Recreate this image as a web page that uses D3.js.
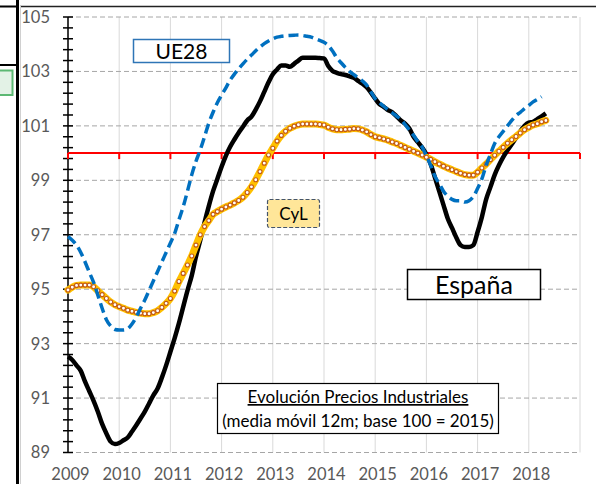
<!DOCTYPE html>
<html>
<head>
<meta charset="utf-8">
<script src="https://cdnjs.cloudflare.com/ajax/libs/d3/7.8.5/d3.min.js"></script>
<style>
body { margin: 0; background: #fff; }
text { font-family: Lato, "Open Sans", sans-serif; }
</style>
</head>
<body>
<svg id="chart" width="596" height="484"></svg>
<script>
// monthly series, first point = Jan 2009
var startYear = 2009;
var yearTicks = [2009, 2010, 2011, 2012, 2013, 2014, 2015, 2016, 2017, 2018];
var yLabels = [89, 91, 93, 95, 97, 99, 101, 103, 105];

var espana = [
  92.52, 92.4, 92.2, 92.0, 91.6, 91.25, 90.9, 90.5, 90.05, 89.7, 89.4, 89.31,
  89.35, 89.45, 89.55, 89.77, 90.0, 90.25, 90.5, 90.8, 91.1, 91.35, 91.75, 92.2,
  92.7, 93.2, 93.75, 94.35, 94.95, 95.5, 96.2, 96.8, 97.45, 98.05, 98.6, 99.05,
  99.5, 99.9, 100.23, 100.5, 100.75, 100.97, 101.2, 101.34, 101.6, 101.9, 102.25, 102.6,
  102.9, 103.07, 103.22, 103.22, 103.17, 103.28, 103.4, 103.5, 103.5, 103.5, 103.5, 103.49,
  103.48, 103.2, 103.02, 102.95, 102.9, 102.87, 102.82, 102.77, 102.65, 102.55, 102.42, 102.22,
  102.0, 101.8, 101.7, 101.58, 101.5, 101.35, 101.2, 101.08, 100.9, 100.6, 100.4, 100.2,
  99.95, 99.6, 99.1, 98.6, 98.1, 97.6, 97.25, 96.9, 96.62, 96.55, 96.55, 96.62,
  97.1, 97.65, 98.3, 98.75, 99.2, 99.55, 99.85, 100.1, 100.33, 100.55, 100.8, 101.0,
  101.12, 101.15, 101.25, 101.35, 101.46
];

var ue28 = [
  96.93, 96.8, 96.62, 96.35, 96.0, 95.62, 95.25, 94.78, 94.3, 93.88, 93.65, 93.52,
  93.5, 93.5, 93.55, 93.72, 93.98, 94.3, 94.6, 94.95, 95.3, 95.65, 96.0, 96.35,
  96.7, 97.05, 97.55, 98.03, 98.6, 99.2, 99.7, 100.12, 100.6, 101.1, 101.5, 101.85,
  102.13, 102.4, 102.68, 102.9, 103.1, 103.28, 103.45, 103.6, 103.76, 103.9, 104.02, 104.12,
  104.2, 104.26, 104.29, 104.31, 104.32, 104.33, 104.34, 104.32, 104.29, 104.26, 104.2, 104.14,
  104.07, 103.95, 103.75, 103.5, 103.32, 103.15, 103.0, 102.88, 102.77, 102.65, 102.5, 102.25,
  102.0, 101.85, 101.72, 101.59, 101.48, 101.36, 101.24, 101.05, 100.85, 100.65, 100.42, 100.22,
  99.9, 99.55, 99.15, 98.88, 98.6, 98.42, 98.3, 98.25, 98.25, 98.2, 98.25, 98.4,
  98.7, 99.05, 99.55, 99.95, 100.35, 100.6, 100.8, 101.0, 101.2, 101.38, 101.5, 101.63,
  101.75, 101.88, 101.97, 102.07
];

var cyl = [
  94.97, 95.07, 95.14, 95.15, 95.15, 95.15, 95.09, 94.94, 94.8, 94.66, 94.53, 94.43,
  94.36, 94.3, 94.23, 94.19, 94.15, 94.12, 94.1, 94.1, 94.14, 94.21, 94.33, 94.48,
  94.66, 94.93, 95.28, 95.58, 95.89, 96.22, 96.62, 97.0, 97.3, 97.52, 97.75, 97.85,
  97.94, 98.02, 98.09, 98.17, 98.26, 98.38, 98.55, 98.76, 99.02, 99.32, 99.63, 99.93,
  100.18, 100.44, 100.65, 100.8, 100.91, 100.99, 101.04, 101.07, 101.07, 101.07, 101.07, 101.05,
  101.03, 100.95, 100.89, 100.86, 100.86, 100.87, 100.88, 100.9, 100.89, 100.85, 100.78, 100.68,
  100.6, 100.56, 100.52, 100.47, 100.41, 100.35, 100.28, 100.21, 100.14, 100.07, 100.0, 99.93,
  99.85, 99.77, 99.68, 99.6, 99.52, 99.45, 99.39, 99.32, 99.26, 99.21, 99.19, 99.19,
  99.3, 99.45, 99.6, 99.76, 99.92, 100.07, 100.21, 100.36, 100.49, 100.61, 100.74, 100.86,
  100.95, 101.03, 101.08, 101.15, 101.2
];

var svg = d3.select("#chart");

var x = d3.scaleLinear().domain([2009, 2019]).range([68, 580]);
var y = d3.scaleLinear().domain([89, 105]).range([452.5, 17]);

function tOf(i) { return startYear + i / 12; }

// left side bits of the neighbouring slide element
svg.append("line").attr("x1", 17.5).attr("x2", 17.5).attr("y1", 0).attr("y2", 484)
  .attr("stroke", "#000").attr("stroke-width", 3);
svg.append("line").attr("x1", 0).attr("x2", 19).attr("y1", 6.5).attr("y2", 6.5)
  .attr("stroke", "#000").attr("stroke-width", 2);
svg.append("line").attr("x1", 0).attr("x2", 19).attr("y1", 65).attr("y2", 65)
  .attr("stroke", "#000").attr("stroke-width", 2);
svg.append("rect").attr("x", -2).attr("y", 70.5).attr("width", 14.5).attr("height", 24.5)
  .attr("fill", "#e3f2e6").attr("stroke", "#5cb873").attr("stroke-width", 2);

// chart frame
svg.append("line").attr("x1", 20).attr("x2", 596).attr("y1", 6.5).attr("y2", 6.5)
  .attr("stroke", "#222").attr("stroke-width", 1.5);
svg.append("line").attr("x1", 20.5).attr("x2", 20.5).attr("y1", 6).attr("y2", 484)
  .attr("stroke", "#d0d0d0").attr("stroke-width", 1);

// vertical grid
svg.append("g").selectAll("line")
  .data(yearTicks.concat([2019]))
  .enter().append("line")
    .attr("x1", function(d) { return x(d); })
    .attr("x2", function(d) { return x(d); })
    .attr("y1", y(105)).attr("y2", y(89))
    .attr("stroke", "#d9d9d9").attr("stroke-width", 1);

// horizontal dashed grid
svg.append("g").selectAll("line")
  .data(yLabels)
  .enter().append("line")
    .attr("x1", x(2009)).attr("x2", x(2019))
    .attr("y1", function(d) { return y(d); })
    .attr("y2", function(d) { return y(d); })
    .attr("stroke", "#a6a6a6").attr("stroke-width", 1)
    .attr("stroke-dasharray", "5,3");

// y axis with crossing ticks
var minor = d3.range(0, 41).map(function(i) { return 89 + i * 0.4; });
svg.append("line").attr("x1", x(2009)).attr("x2", x(2009))
  .attr("y1", y(105)).attr("y2", y(89))
  .attr("stroke", "#000").attr("stroke-width", 1.5);
svg.append("g").selectAll("line")
  .data(minor)
  .enter().append("line")
    .attr("x1", x(2009) - 5).attr("x2", x(2009) + 5)
    .attr("y1", function(d) { return y(d); })
    .attr("y2", function(d) { return y(d); })
    .attr("stroke", "#000").attr("stroke-width", 1.5);

svg.append("g").selectAll("text")
  .data(yLabels)
  .enter().append("text")
    .attr("x", 50)
    .attr("y", function(d) { return y(d); })
    .attr("dy", "0.36em")
    .attr("text-anchor", "end")
    .attr("font-size", 16.5)
    .attr("fill", "#595959")
    .text(function(d) { return d; });

// x labels
svg.append("g").selectAll("text")
  .data(yearTicks)
  .enter().append("text")
    .attr("x", function(d) { return x(d) + 2.5; })
    .attr("y", 480)
    .attr("text-anchor", "middle")
    .attr("font-size", 16.5)
    .attr("fill", "#595959")
    .text(function(d) { return d; });

// red line at base 100 with its ticks
svg.append("line").attr("x1", x(2009)).attr("x2", x(2019))
  .attr("y1", y(100)).attr("y2", y(100))
  .attr("stroke", "#ff0000").attr("stroke-width", 2);
svg.append("g").selectAll("line")
  .data(yearTicks.concat([2019]))
  .enter().append("line")
    .attr("x1", function(d) { return x(d); })
    .attr("x2", function(d) { return x(d); })
    .attr("y1", y(100)).attr("y2", y(100) + 6)
    .attr("stroke", "#ff0000").attr("stroke-width", 2);

var line = d3.line()
  .x(function(d, i) { return x(tOf(i)); })
  .y(function(d) { return y(d); })
  .curve(d3.curveMonotoneX);

// España
svg.append("path").datum(espana)
  .attr("d", line)
  .attr("fill", "none").attr("stroke", "#000").attr("stroke-width", 4.5)
  .attr("stroke-linejoin", "round");

// CyL
svg.append("path").datum(cyl)
  .attr("d", line)
  .attr("fill", "none").attr("stroke", "#ffc000").attr("stroke-width", 7)
  .attr("stroke-linejoin", "round").attr("stroke-linecap", "round");
svg.append("g").selectAll("circle")
  .data(cyl)
  .enter().append("circle")
    .attr("cx", function(d, i) { return x(tOf(i)); })
    .attr("cy", function(d) { return y(d); })
    .attr("r", 2)
    .attr("fill", "#fff").attr("stroke", "#c55a11").attr("stroke-width", 1.1);

// UE28
svg.append("path").datum(ue28)
  .attr("d", line)
  .attr("fill", "none").attr("stroke", "#0070c0").attr("stroke-width", 3.5)
  .attr("stroke-dasharray", "10,5");

// labels in boxes
svg.append("rect").attr("x", 133.5).attr("y", 39.5).attr("width", 96).attr("height", 23)
  .attr("fill", "#fff").attr("stroke", "#2e75b6").attr("stroke-width", 1.5);
svg.append("text").attr("x", 181.5).attr("y", 58.5).attr("text-anchor", "middle")
  .attr("font-size", 21).attr("fill", "#000").text("UE28");

svg.append("rect").attr("x", 267.5).attr("y", 199.5).attr("width", 52).attr("height", 28)
  .attr("rx", 2)
  .attr("fill", "#ffe699").attr("stroke", "#44546a").attr("stroke-width", 1.2)
  .attr("stroke-dasharray", "4,2");
svg.append("text").attr("x", 293.5).attr("y", 219.5).attr("text-anchor", "middle")
  .attr("font-size", 17).attr("fill", "#000").text("CyL");

svg.append("rect").attr("x", 407.5).attr("y", 269.5).attr("width", 133).attr("height", 30)
  .attr("fill", "#fff").attr("stroke", "#000").attr("stroke-width", 1.5);
svg.append("text").attr("x", 474).attr("y", 294).attr("text-anchor", "middle")
  .attr("font-size", 25).attr("fill", "#000").text("España");

svg.append("rect").attr("x", 217.5).attr("y", 383.5).attr("width", 281).attr("height", 50)
  .attr("fill", "#fff").attr("stroke", "#000").attr("stroke-width", 1.2);
svg.append("text").attr("x", 358).attr("y", 403).attr("text-anchor", "middle")
  .attr("font-size", 17).attr("fill", "#000")
  .style("text-decoration", "underline")
  .text("Evolución Precios Industriales");
svg.append("text").attr("x", 358).attr("y", 426.5).attr("text-anchor", "middle")
  .attr("font-size", 17).attr("fill", "#000")
  .text("(media móvil 12m; base 100 = 2015)");
</script>
</body>
</html>
